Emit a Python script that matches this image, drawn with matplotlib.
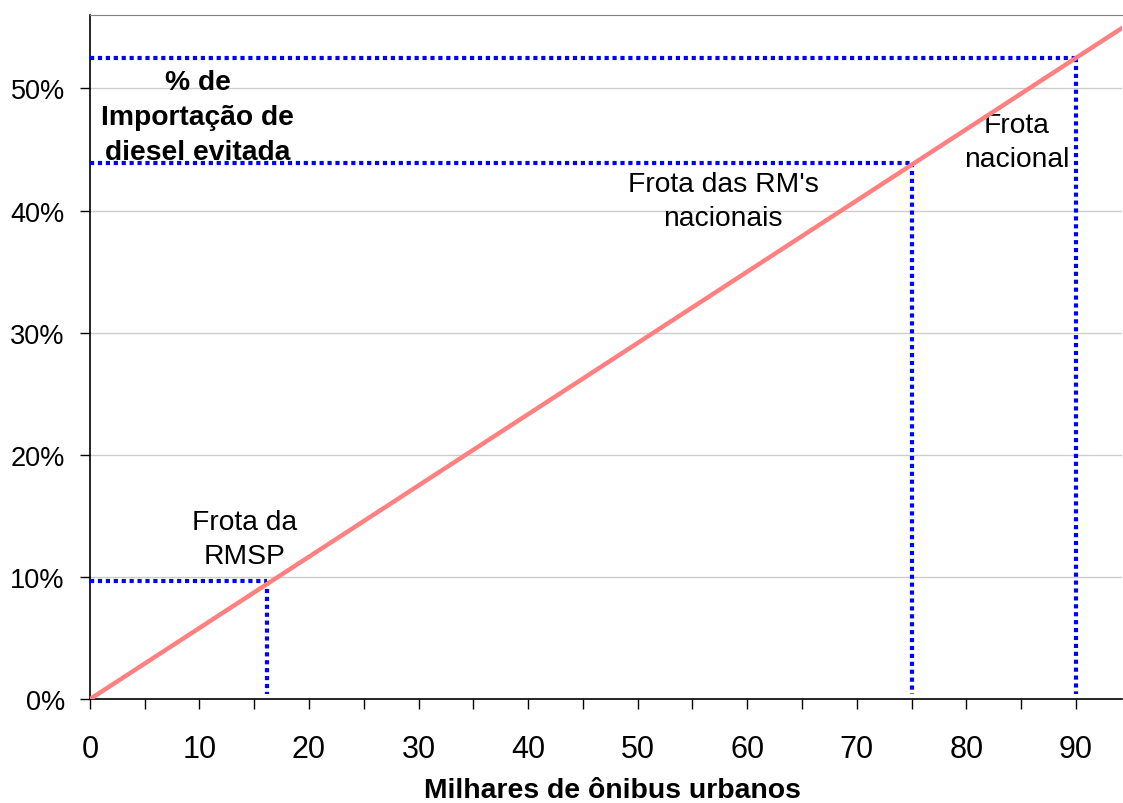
import matplotlib.pyplot as plt
from matplotlib.ticker import FuncFormatter, MultipleLocator

plt.rcParams["font.family"] = ["Liberation Sans", "DejaVu Sans"]

# Avoided diesel imports vs. electrified urban bus fleet (thousands of buses)
line_x = [0, 95]
line_y = [0.0, 0.554]

fleet_labels = ["Frota da\nRMSP", "Frota das RM's\nnacionais", "Frota\nnacional"]
fleet_size = [16.2, 75.0, 90.0]
fleet_share = [0.097, 0.439, 0.525]
label_pos = [(14.1, 0.131), (57.8, 0.408), (84.6, 0.456)]

y_ticks = [0.0, 0.1, 0.2, 0.3, 0.4, 0.5]

fig = plt.figure(figsize=(11.23, 8.04), dpi=100)
ax = fig.add_axes([0.080, 0.129, 0.919, 0.851])

ax.set_xlim(0, 94.2)
ax.set_ylim(0, 0.56)

ax.set_yticks(y_ticks)
ax.yaxis.set_major_formatter(FuncFormatter(lambda v, p: f"{v * 100:.0f}%"))
ax.xaxis.set_major_locator(MultipleLocator(10))
ax.xaxis.set_minor_locator(MultipleLocator(5))
ax.grid(axis="y", color="#cccccc", linewidth=1.0)
ax.set_axisbelow(True)

ax.tick_params(axis="x", which="both", direction="out", length=7, width=1,
               labelsize=22, pad=18)
ax.tick_params(axis="y", direction="out", length=7, width=1, labelsize=19.5, pad=11)

ax.spines["right"].set_visible(False)
ax.spines["top"].set_color("#808080")
ax.spines["left"].set_linewidth(1.2)
ax.spines["bottom"].set_linewidth(1.2)

# guide lines from each fleet size to its share
for fx, fy in zip(fleet_size, fleet_share):
    ax.plot([0, fx], [fy, fy], color="#0000ff", lw=3.0, ls=(0, (1, 0.9)),
            dash_capstyle="butt", clip_on=False, zorder=3)
    ax.plot([fx, fx], [fy, 0.004], color="#0000ff", lw=3.0, ls=(0, (1, 0.9)),
            dash_capstyle="butt", zorder=3)

ax.plot(line_x, line_y, color="#ff8080", lw=3.2, solid_capstyle="butt", zorder=4)

for text, (tx, ty) in zip(fleet_labels, label_pos):
    ax.text(tx, ty, text, ha="center", va="center", fontsize=20.3, linespacing=1.38)

ax.text(9.85, 0.4765, "% de\nImportação de\ndiesel evitada", ha="center", va="center",
        fontsize=20.3, fontweight="bold", linespacing=1.45)

ax.set_xlabel("Milhares de ônibus urbanos", fontsize=20.4, fontweight="bold")
ax.xaxis.set_label_coords(0.506, -0.113)

fig.savefig("out.png", dpi=100)
